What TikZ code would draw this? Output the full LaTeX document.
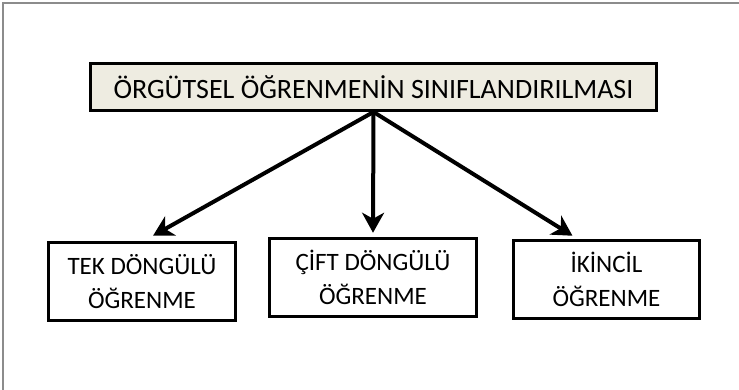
\documentclass[tikz,border=0pt]{standalone}
\usepackage{fontspec}
\setmainfont{Carlito}
\usepackage{xcolor}
\usetikzlibrary{arrows.meta,positioning}

\definecolor{tanfill}{HTML}{EEECE1}
\definecolor{framegray}{HTML}{8C8C8C}

\begin{document}
\begin{tikzpicture}[
  x=1pt, y=-1pt,
  topbox/.style={draw, line width=3pt, fill=tanfill, align=center,
                 font=\fontsize{28}{32}\selectfont, inner sep=0pt,
                 minimum width=566pt, minimum height=47pt},
  kind/.style={draw, line width=3.5pt, fill=white, align=center,
               font=\fontsize{25}{34}\selectfont, inner sep=0pt,
               minimum height=78pt},
  arr/.style={line width=4pt, -{Stealth[length=20pt, width=22pt, inset=6pt]}}
]
\useasboundingbox (0,0) rectangle (739,390);
\draw[framegray, line width=1.5pt] (3,390) -- (3,3) -- (739,3);

\node[topbox] (siniflama) at (373.5,87) {ÖRGÜTSEL ÖĞRENMENİN SINIFLANDIRILMASI};

\node[kind, minimum width=187pt] (tek) at (142,281.5) {TEK DÖNGÜLÜ\\ÖĞRENME};
\node[kind, minimum width=207pt] (cift) at (373,277.5) {ÇİFT DÖNGÜLÜ\\ÖĞRENME};
\node[kind, minimum width=186pt] (ikincil) at (606.5,279.5) {İKİNCİL\\ÖĞRENME};

\draw[arr] (siniflama.south) -- ([xshift=11pt, yshift=5pt]tek.north);
\draw[arr] (siniflama.south) -- ([yshift=4pt]cift.north);
\draw[arr] (siniflama.south) -- ([xshift=-34pt, yshift=3pt]ikincil.north);
\end{tikzpicture}
\end{document}
